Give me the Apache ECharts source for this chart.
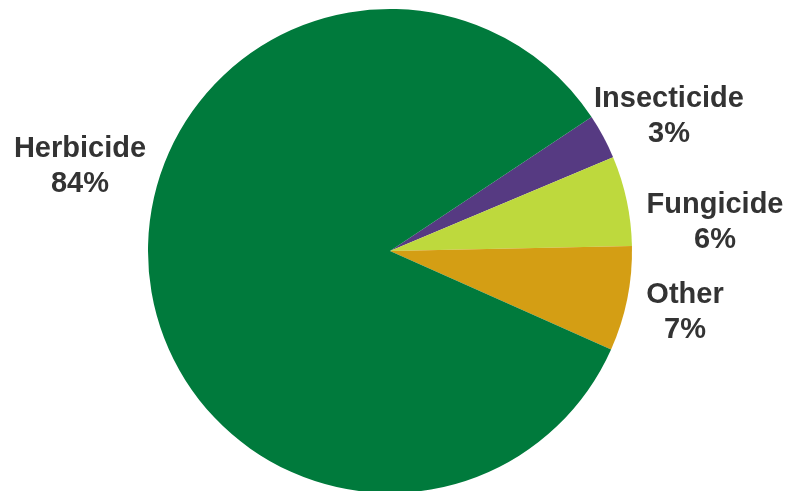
<!DOCTYPE html>
<html>
<head>
<meta charset="utf-8">
<style>
  html, body { margin: 0; padding: 0; background: #ffffff; }
  #chart { width: 788px; height: 491px; }
</style>
<script src="https://cdn.jsdelivr.net/npm/echarts@6/dist/echarts.min.js"></script>
</head>
<body>
<div id="chart"></div>
<script>
// Pesticide use by type (share of total, %)
const categories = ['Insecticide', 'Fungicide', 'Other', 'Herbicide'];
const shares = [3, 6, 7, 84];
const sliceColors = ['#563a82', '#bed93d', '#d49e14', '#007a3c'];

// Where each two-line label block is centred
const labelSpots = [
  { x: 669, y: 116 },
  { x: 715, y: 222 },
  { x: 685, y: 312 },
  { x: 80, y: 166 }
];

const chart = echarts.init(document.getElementById('chart'), null, { renderer: 'canvas' });

chart.setOption({
  animation: false,
  backgroundColor: '#ffffff',
  series: [{
    type: 'pie',
    center: [390, 251],
    radius: [0, 242],
    startAngle: 33.6,
    clockwise: true,
    avoidLabelOverlap: false,
    silent: true,
    data: categories.map((name, i) => ({
      name: name,
      value: shares[i],
      itemStyle: { color: sliceColors[i] }
    })),
    label: {
      show: true,
      position: 'outside',
      formatter: '{b}\n{c}%',
      fontFamily: 'Liberation Sans, Arial, sans-serif',
      fontWeight: 'bold',
      fontSize: 29,
      lineHeight: 35,
      color: '#333333',
      align: 'center'
    },
    labelLine: { show: false },
    labelLayout: function (params) {
      const p = labelSpots[params.dataIndex];
      return { x: p.x, y: p.y, align: 'center', verticalAlign: 'middle' };
    },
    emphasis: { disabled: true }
  }]
});
</script>
</body>
</html>
